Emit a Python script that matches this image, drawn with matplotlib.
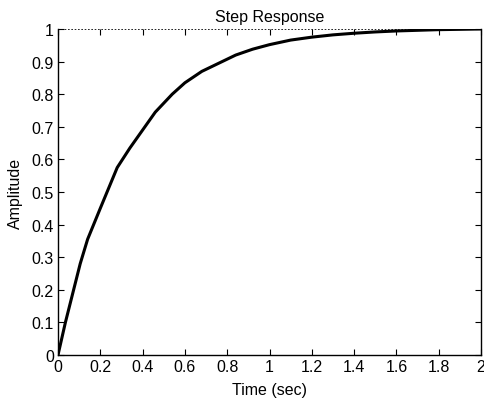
import matplotlib
matplotlib.use("Agg")
import matplotlib.pyplot as plt

t = [0.0, 0.035, 0.07, 0.105, 0.14, 0.2, 0.28, 0.34, 0.4, 0.46, 0.54, 0.6, 0.68, 0.76,
     0.84, 0.92, 1.0, 1.1, 1.2, 1.3, 1.4, 1.5, 1.6, 1.7, 1.8, 1.9, 2.0]
amp = [0.0, 0.10, 0.19, 0.28, 0.355, 0.45, 0.575, 0.635, 0.69, 0.745, 0.80, 0.835, 0.87, 0.895,
       0.92, 0.938, 0.952, 0.966, 0.975, 0.982, 0.987, 0.991, 0.994, 0.996, 0.998, 0.999, 1.0]
xticks = [0, 0.2, 0.4, 0.6, 0.8, 1, 1.2, 1.4, 1.6, 1.8, 2]
xticklabels = ["0", "0.2", "0.4", "0.6", "0.8", "1", "1.2", "1.4", "1.6", "1.8", "2"]
yticks = [0, 0.1, 0.2, 0.3, 0.4, 0.5, 0.6, 0.7, 0.8, 0.9, 1]
yticklabels = ["0", "0.1", "0.2", "0.3", "0.4", "0.5", "0.6", "0.7", "0.8", "0.9", "1"]

plt.rcParams['font.family'] = ['Liberation Sans', 'DejaVu Sans']
fig = plt.figure(figsize=(4.84, 4.02), dpi=100)
ax = fig.add_axes([58/484, 1 - 356/402, 423/484, 326/402])
ax.plot(t, amp, color='black', lw=2.2, solid_joinstyle='miter')
ax.axhline(1.0, color='black', ls=(0, (1, 1)), lw=1.2)
ax.set_xlim(0, 2)
ax.set_ylim(0, 1)
ax.set_xticks(xticks)
ax.set_xticklabels(xticklabels)
ax.set_yticks(yticks)
ax.set_yticklabels(yticklabels)
ax.tick_params(direction='in', length=4, top=True, right=True, labelsize=11.5, pad=3, width=0.8)
ax.spines['top'].set_visible(False)
for s in ['left', 'right', 'bottom']:
    ax.spines[s].set_linewidth(1.0)
ax.set_title("Step Response", fontsize=11.5, pad=6)
ax.set_xlabel("Time (sec)", fontsize=11.5, labelpad=6)
ax.set_ylabel("Amplitude", fontsize=11.5, labelpad=6)
fig.savefig("out.png", dpi=100)
